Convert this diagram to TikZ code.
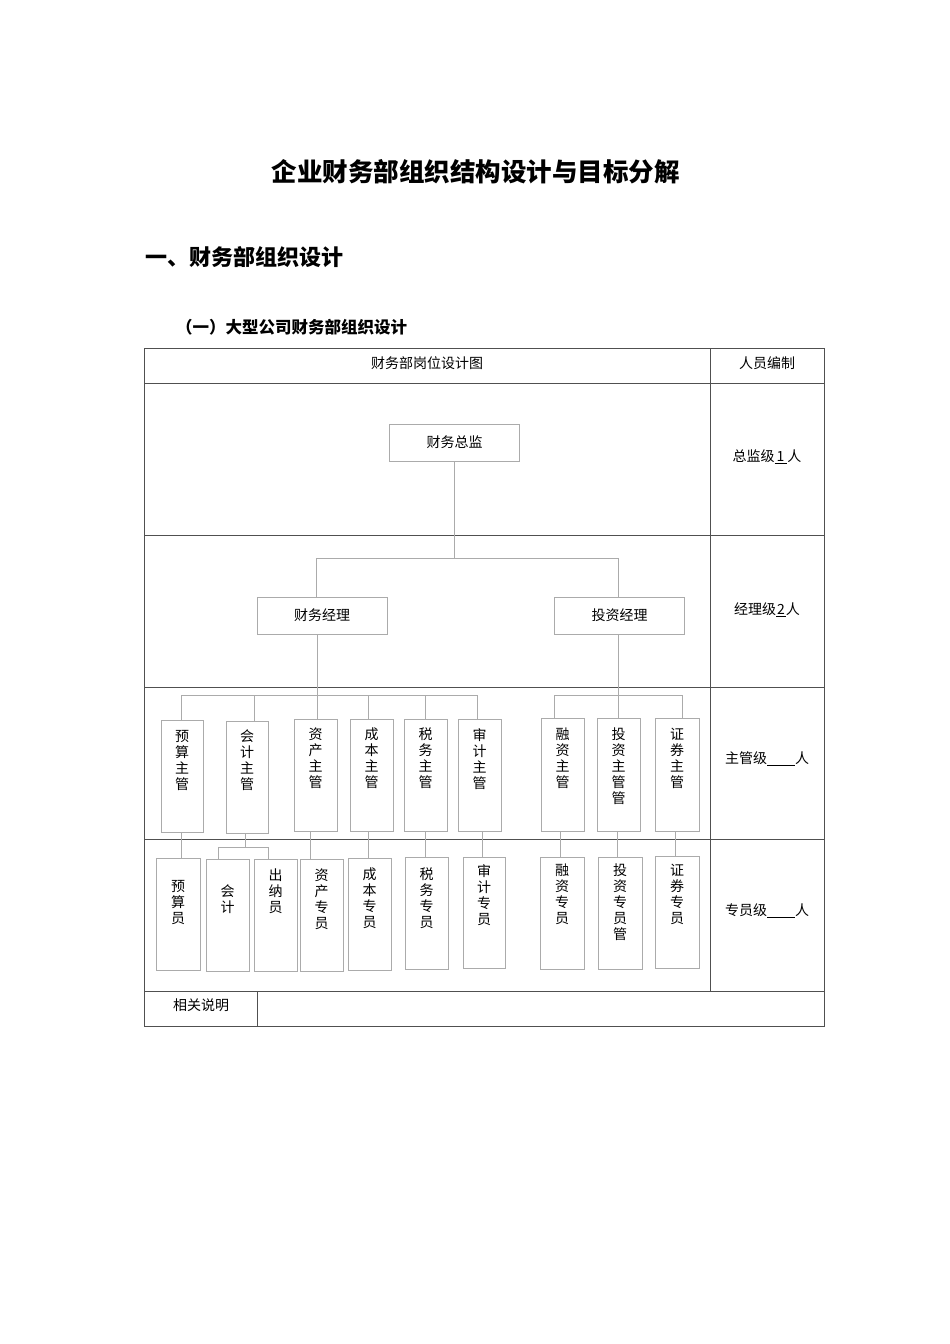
\documentclass[tikz,border=0pt]{standalone}
\usepackage{fontspec}
\setmainfont{Noto Sans CJK SC}
\definecolor{tblc}{HTML}{505050}
\definecolor{bxc}{HTML}{ABABAB}
\tikzset{
  tbl/.style={draw=tblc, line width=0.9pt},
  box/.style={draw=bxc, line width=0.6pt, inner sep=0},
  conn/.style={draw=bxc, line width=0.6pt},
  txt/.style={font=\fontsize{14}{16}\selectfont, inner sep=0, text=black},
  vt/.style={font=\fontsize{14}{16}\selectfont, align=center, inner sep=0, anchor=north, text=black},
}
\newcommand{\orgbox}[7]{%
  \node[box, minimum width=#4, minimum height=#5] (#1) at (#2,#3) {};
  \node[vt] (#1t) at (#2,#7-7) {#6};}
\begin{document}
\begin{tikzpicture}[x=1pt,y=-1pt]
\useasboundingbox (0,0) rectangle (950,1344);
% titles
\node[inner sep=0, font=\fontsize{25.5}{26}\selectfont\bfseries] (title) at (475.5,172) {企业财务部组织结构设计与目标分解};
\node[inner sep=0, anchor=west, font=\fontsize{22}{24}\selectfont\bfseries] (h1) at (145,257) {一、财务部组织设计};
\node[inner sep=0, anchor=west, font=\fontsize{16.5}{18}\selectfont\bfseries] (h2) at (176,327) {（一）大型公司财务部组织设计};
% table
\draw[tbl] (144,348) rectangle (824,1026);
\foreach \y in {383,535,687,839,991} \draw[tbl] (144,\y) -- (824,\y);
\draw[tbl] (710,348) -- (710,991);
\draw[tbl] (257,991) -- (257,1026);
\node[txt] (hd1) at (427,363) {财务部岗位设计图};
\node[txt] (hd2) at (767,363) {人员编制};
\node[txt] (r1) at (767,457) {总监级\underline{\hspace{2pt}1\hspace{3pt}}人};
\node[txt] (r2) at (767,610) {经理级\underline{\hspace{1pt}2\hspace{1pt}}人};
\node[txt] (r3) at (767,759) {主管级\underline{\hspace{28pt}}人};
\node[txt] (r4) at (767,911) {专员级\underline{\hspace{28pt}}人};
\node[txt] (sm) at (201,1005) {相关说明};
% top boxes
\node[box, minimum width=130, minimum height=37, txt] (zj) at (454.5,442.5) {财务总监};
\node[box, minimum width=130, minimum height=37, txt] (cwjl) at (322,615.5) {财务经理};
\node[box, minimum width=130, minimum height=37, txt] (tzjl) at (619.5,615.5) {投资经理};
% row 3 boxes
\orgbox{ys}{182}{776}{42}{112}{预\\算\\主\\管}{737}
\orgbox{kj}{247}{777}{42}{112}{会\\计\\主\\管}{736.5}
\orgbox{zc}{315.5}{775}{43}{112}{资\\产\\主\\管}{735}
\orgbox{cb}{371.5}{775}{43}{112}{成\\本\\主\\管}{735}
\orgbox{sw}{425.5}{775}{43}{112}{税\\务\\主\\管}{735}
\orgbox{sj}{479.5}{775}{43}{112}{审\\计\\主\\管}{735}
\orgbox{rz}{562.5}{774.5}{43}{113}{融\\资\\主\\管}{734.5}
\orgbox{tz}{618.5}{774.5}{43}{113}{投\\资\\主\\管\\管}{734.5}
\orgbox{zq}{677}{774.5}{44}{113}{证\\券\\主\\管}{734.5}
% row 4 boxes
\orgbox{ysy}{178}{914}{44}{112}{预\\算\\员}{887}
\orgbox{kji}{227.5}{915}{43}{112}{会\\计}{891.5}
\orgbox{cny}{275.5}{915}{43}{112}{出\\纳\\员}{875.7}
\orgbox{zcz}{321.5}{915}{43}{112}{资\\产\\专\\员}{875.7}
\orgbox{cbz}{369.5}{914}{43}{112}{成\\本\\专\\员}{874.3}
\orgbox{swz}{426.5}{913}{43}{112}{税\\务\\专\\员}{874.3}
\orgbox{sjz}{484}{912.5}{42}{111}{审\\计\\专\\员}{871.7}
\orgbox{rzz}{562}{913}{44}{112}{融\\资\\专\\员}{870.7}
\orgbox{tzz}{620}{913}{44}{112}{投\\资\\专\\员\\管}{870.7}
\orgbox{zqz}{677}{912}{44}{112}{证\\券\\专\\员}{870.7}
% connectors level 1-2
\coordinate (a1) at (316,558.5);
\coordinate (a2) at (618,558.5);
\draw[conn] (zj.south) -- (zj.south |- a1);
\draw[conn] (cwjl.north -| a1) -- (a1) -- (a2) -- (tzjl.north -| a2);
% level 2-3 left
\coordinate (b1) at (181,695);
\coordinate (b2) at (254,695);
\coordinate (b3) at (317,695);
\coordinate (b4) at (368,695);
\coordinate (b5) at (425,695);
\coordinate (b6) at (477,695);
\draw[conn] (b1) -- (b6);
\draw[conn] (cwjl.south -| b3) -- (b3 |- zc.north);
\foreach \b/\n in {b1/ys,b2/kj,b4/cb,b5/sw,b6/sj} \draw[conn] (\b) -- (\b |- \n.north);
% level 2-3 right
\coordinate (c1) at (554,695);
\coordinate (c2) at (618,695);
\coordinate (c3) at (682,695);
\draw[conn] (c1) -- (c3);
\draw[conn] (tzjl.south -| c2) -- (c2 |- tz.north);
\draw[conn] (c1) -- (c1 |- rz.north);
\draw[conn] (c3) -- (c3 |- zq.north);
% level 3-4
\coordinate (e1) at (181.7,845);
\coordinate (e2) at (245.3,847);
\coordinate (f1) at (218.3,847);
\coordinate (f2) at (268.3,847);
\coordinate (e3) at (310.3,845);
\coordinate (e4) at (368.3,845);
\coordinate (e5) at (425.3,845);
\coordinate (e6) at (482.7,845);
\coordinate (e7) at (560.3,845);
\coordinate (e8) at (617.7,845);
\coordinate (e9) at (675.7,845);
\draw[conn] (kj.south -| e2) -- (e2);
\draw[conn] (f1 |- kji.north) -- (f1) -- (f2) -- (f2 |- cny.north);
\foreach \e/\u/\l in {e1/ys/ysy,e3/zc/zcz,e4/cb/cbz,e5/sw/swz,e6/sj/sjz,e7/rz/rzz,e8/tz/tzz,e9/zq/zqz}
  \draw[conn] (\u.south -| \e) -- (\e |- \l.north);
\end{tikzpicture}
\end{document}
